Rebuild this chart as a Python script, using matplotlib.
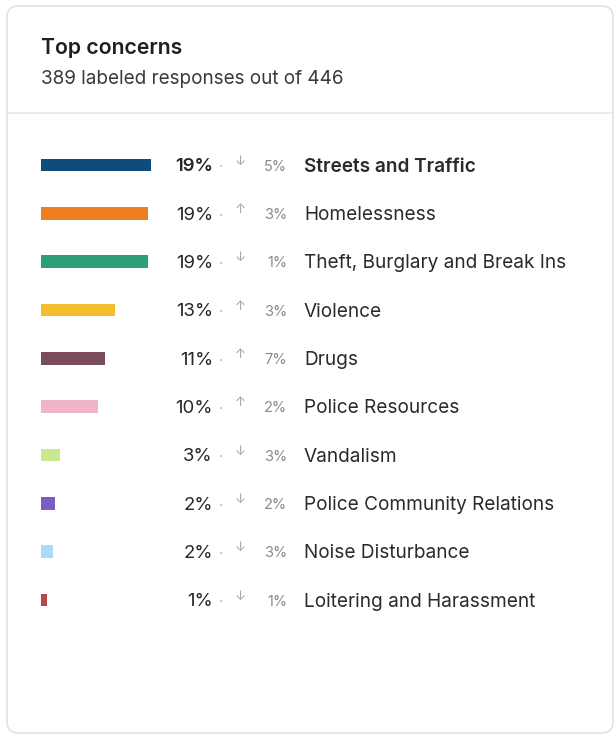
import matplotlib.pyplot as plt
from matplotlib.patches import FancyBboxPatch
from matplotlib.lines import Line2D
from matplotlib.transforms import blended_transform_factory

plt.rcParams['font.family'] = ['Inter', 'DejaVu Sans']

# data
topics = ['Streets and Traffic', 'Homelessness', 'Theft, Burglary and Break Ins',
          'Violence', 'Drugs', 'Police Resources', 'Vandalism',
          'Police Community Relations', 'Noise Disturbance', 'Loitering and Harassment']
shares = [19.2, 18.6, 18.6, 13.0, 11.2, 9.9, 3.3, 2.4, 2.1, 1.0]
changes = [5, 3, 1, 3, 7, 2, 3, 2, 3, 1]
directions = ['down', 'up', 'down', 'up', 'up', 'up', 'down', 'down', 'down', 'down']
colors = ['#0f4c7c', '#ef7d22', '#2b9e7a', '#f5bd2f', '#7a4a5d', '#f1b3c8',
          '#c8ea8c', '#7a5cc2', '#aadcf6', '#b8474f']

W, H = 616, 736
fig = plt.figure(figsize=(W / 100, H / 100), dpi=100)

def fx(px):
    return px / W

def fy(py):
    return 1 - py / H

# card
card = FancyBboxPatch((fx(7), fy(733)), fx(606), (727) / H,
                      boxstyle='round,pad=0,rounding_size=0.018',
                      transform=fig.transFigure, facecolor='white',
                      edgecolor='#e2e2e2', linewidth=1.2, mutation_aspect=W / H,
                      zorder=-10)
fig.patches.append(card)
fig.add_artist(Line2D([fx(7), fx(613)], [fy(113), fy(113)], color='#e6e6e6',
                      linewidth=1.2, transform=fig.transFigure, zorder=-5))

fig.text(fx(41), fy(48), 'Top concerns', fontsize=15.3, fontweight='semibold',
         color='#1f1f1f', va='center', ha='left')
fig.text(fx(41), fy(78.5), '389 labeled responses out of 446', fontsize=13.6,
         color='#3a3a3a', va='center', ha='left')

# rows
n = len(topics)
row_h = 48.33
top_px = 165 - row_h / 2
bot_px = 600 + row_h / 2
ax = fig.add_axes([fx(41), fy(bot_px), fx(W - 41), (bot_px - top_px) / H])
px_per_pct = 110 / shares[0]
ax.set_xlim(0, (W - 41) / px_per_pct)
ax.set_ylim(n - 0.5, -0.5)
ax.barh(range(n), shares, height=0.26, color=colors)
ax.axis('off')

tr = blended_transform_factory(fig.transFigure, ax.transData)
dy = 0.035
for i in range(n):
    bold = 'semibold' if i == 0 else 'normal'
    ax.text(fx(213), i + dy, f'{round(shares[i])}%', transform=tr, ha='right', va='center',
            fontsize=13.3, fontweight=bold, color='#262626')
    ax.text(fx(221), i + 0.05, '·', transform=tr, ha='center', va='center',
            fontsize=10, color='#b0b0b0')
    arrow = '↓' if directions[i] == 'down' else '↑'
    ax.text(fx(240), i - 0.07, arrow, transform=tr, ha='center', va='center',
            fontsize=9.5, color='#a8a8a8')
    ax.text(fx(287), i + dy, f'{changes[i]}%', transform=tr, ha='right', va='center',
            fontsize=10.5, color='#8a8a8a')
    ax.text(fx(304), i + dy, topics[i], transform=tr, ha='left', va='center',
            fontsize=13.7, fontweight=bold, color='#2a2a2a')

fig.savefig('out.png', dpi=100, facecolor='white')
